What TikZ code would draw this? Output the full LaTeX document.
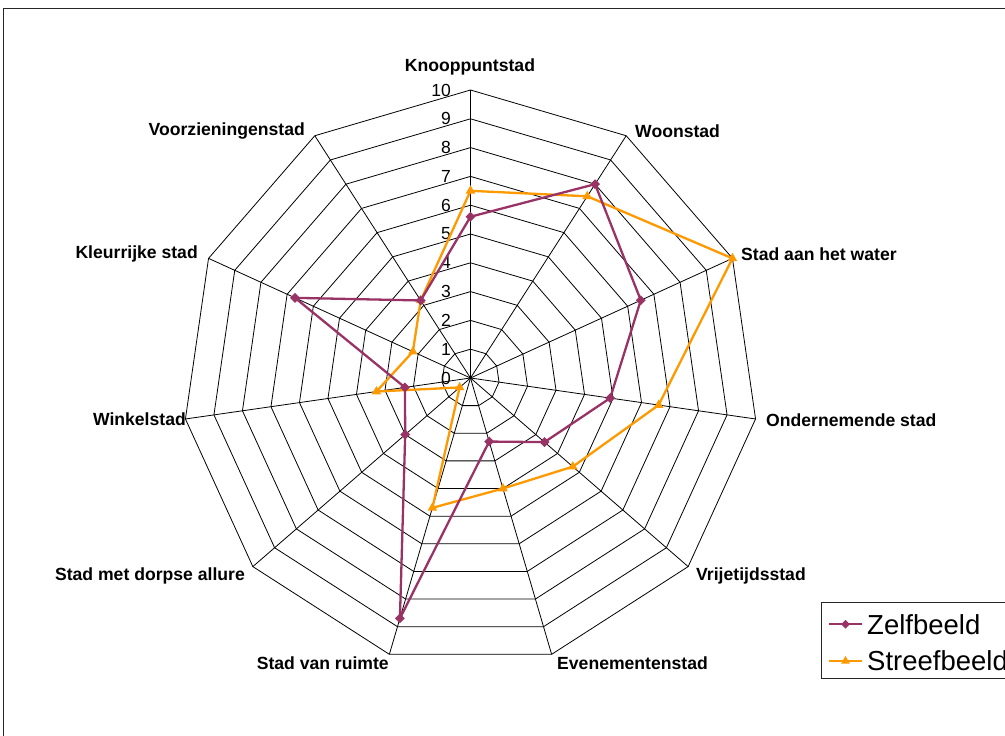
\documentclass[tikz,border=0pt]{standalone}
\usepackage{fontspec}
\setmainfont{Liberation Sans}
\usetikzlibrary{shapes.geometric,calc}
\definecolor{zelfc}{RGB}{153,51,102}
\definecolor{streefc}{RGB}{255,153,0}
\tikzset{
  frame/.style={draw=black!85,line width=1pt},
  gridline/.style={draw=black,line width=0.8pt},
  cat/.style={font=\fontsize{17.6}{20}\selectfont\bfseries,inner sep=0pt},
  tick/.style={font=\fontsize{17.5}{20}\selectfont,inner sep=0pt,anchor=east},
  zelf/.style={draw=zelfc,line width=2.3pt,line join=round},
  streef/.style={draw=streefc,line width=2.3pt,line join=round},
  zmark/.style={diamond,fill=zelfc,inner sep=0pt,minimum width=10pt,minimum height=10pt},
  smark/.style={regular polygon,regular polygon sides=3,fill=streefc,inner sep=0pt,minimum size=11pt},
  legtext/.style={font=\fontsize{27.5}{32}\selectfont,inner sep=0pt,anchor=west}
}
\begin{document}
\begin{tikzpicture}[x=1pt,y=-1pt]
\useasboundingbox (0,0) rectangle (1005,736);
\clip (0,0) rectangle (1005,736);
\fill[white] (0,0) rectangle (1005,736);
\draw[frame] (3,8.5) rectangle (1030,760);
\def\U{28.8}
\coordinate (C) at (470.5,378);
\begin{scope}[shift={(470.5,378)}]
  % rings
  \foreach \v in {1,...,10} {
    \draw[gridline] plot[samples at={0,...,10}] (\x*360/11-90:{\v*\U}) -- cycle;
  }
  % outer vertices
  \foreach \k in {0,...,10} {
    \coordinate (v\k) at (\k*360/11-90:{10*\U});
  }
  % data points
  \foreach \val [count=\k from 0] in {5.6,8.0,6.5,4.9,3.4,2.3,8.7,3.0,2.3,6.7,3.2} {
    \coordinate (z\k) at (\k*360/11-90:{\val*\U});
  }
  \foreach \val [count=\k from 0] in {6.5,7.5,10,6.6,4.7,4.0,4.7,0.5,3.3,2.2,3.2} {
    \coordinate (s\k) at (\k*360/11-90:{\val*\U});
  }
\end{scope}
% spokes
\foreach \k in {0,...,10} { \draw[gridline] (C) -- (v\k); }
% tick labels
\foreach \v in {0,...,10} { \node[tick] (t\v) at (451,{378-\v*\U}) {\v}; }
% series
\draw[streef] (s0) \foreach \k in {1,...,10} { -- (s\k) } -- cycle;
\draw[zelf] (z0) \foreach \k in {1,...,10} { -- (z\k) } -- cycle;
\foreach \k in {0,...,10} { \node[smark] (sm\k) at (s\k) {}; }
\foreach \k in {0,...,10} { \node[zmark] (zm\k) at (z\k) {}; }
% category labels
\node[cat] (l0) at (470,67) {Knooppuntstad};
\node[cat,anchor=west] (l1) at (635,131) {Woonstad};
\node[cat,anchor=west] (l2) at (741,254) {Stad aan het water};
\node[cat,anchor=west] (l3) at (766,420) {Ondernemende stad};
\node[cat,anchor=west] (l4) at (696,576) {Vrijetijdsstad};
\node[cat,anchor=west] (l5) at (557,663) {Evenementenstad};
\node[cat,anchor=east] (l6) at (389,663) {Stad van ruimte};
\node[cat,anchor=east] (l7) at (245,576) {Stad met dorpse allure};
\node[cat,anchor=east] (l8) at (186,419) {Winkelstad};
\node[cat,anchor=east] (l9) at (198,254) {Kleurrijke stad};
\node[cat,anchor=east] (l10) at (305,131) {Voorzieningenstad};
% legend
\draw[draw=black!85,line width=1pt] (821.7,602.7) rectangle (1040,678.3);
\coordinate (la1) at (829,624.3);
\coordinate (lb1) at (862,624.3);
\coordinate (la2) at (829,661);
\coordinate (lb2) at (862,661);
\draw[zelf,line width=2pt] (la1) -- (lb1);
\node[zmark,minimum width=9pt,minimum height=9pt] (lz) at ($(la1)!0.5!(lb1)$) {};
\draw[streef,line width=2pt] (la2) -- (lb2);
\node[smark,minimum size=10pt] (ls) at ($(la2)!0.5!(lb2)$) {};
\node[legtext] (lt1) at (867,624.3) {Zelfbeeld};
\node[legtext] (lt2) at (867,661) {Streefbeeld};
\end{tikzpicture}
\end{document}
